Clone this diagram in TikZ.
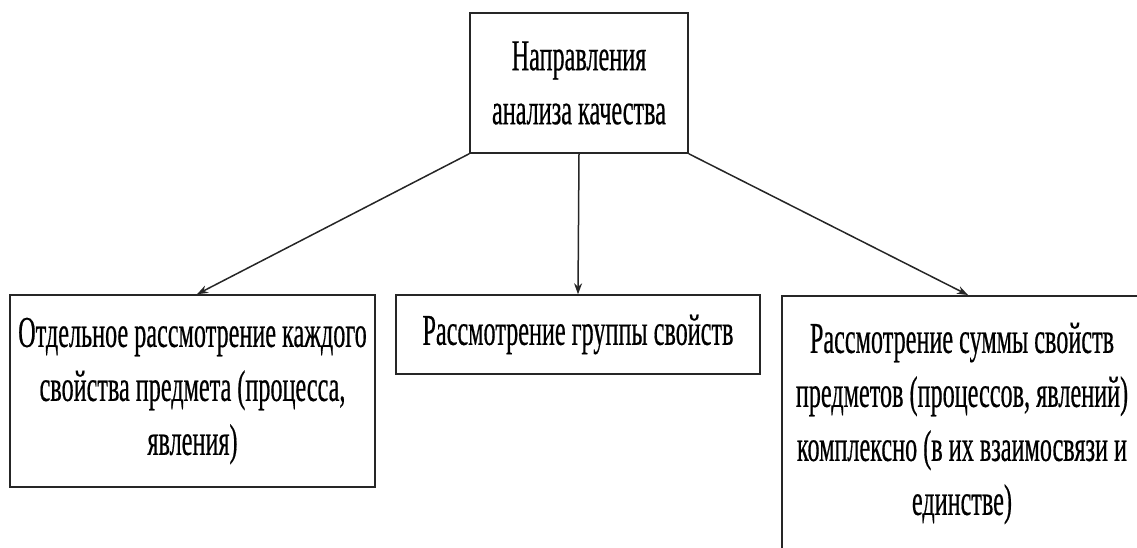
\documentclass[tikz,border=0pt]{standalone}
\usepackage{fontspec}
\setmainfont{Liberation Serif}[FakeStretch=0.55,FakeBold=0.4]
\usetikzlibrary{arrows.meta}
\begin{document}
\begin{tikzpicture}[x=1pt,y=-1pt,
  box/.style={draw=black!85, line width=1.5pt, fill=white, align=center,
    font=\fontsize{44}{54}\selectfont, inner sep=0pt},
  arr/.style={draw=black!85, line width=1.5pt, -{Stealth[length=11pt,width=8pt]}}]
\useasboundingbox (0,0) rectangle (1137,547);
\clip (0,0) rectangle (1137,547);
\node[box, minimum width=218pt, minimum height=140pt] (top) at (579,83)
  {Направления\\анализа качества};
\node[box, minimum width=365pt, minimum height=192pt] (l) at (192.5,391)
  {Отдельное рассмотрение каждого\\свойства предмета (процесса,\\явления)};
\node[box, minimum width=364pt, minimum height=79pt] (m) at (578,334.5)
  {Рассмотрение группы свойств};
\node[box, anchor=north, minimum width=360pt, inner ysep=27pt, text depth=150pt] (r) at (962,295)
  {Рассмотрение суммы свойств\\предметов (процессов, явлений)\\комплексно (в их взаимосвязи и\\единстве)};
\draw[arr] (top.south west) -- ([xshift=4.5pt]l.north);
\draw[arr] (top.south) -- (m.north);
\draw[arr] (top.south east) -- ([xshift=6pt]r.north);
\end{tikzpicture}
\end{document}
